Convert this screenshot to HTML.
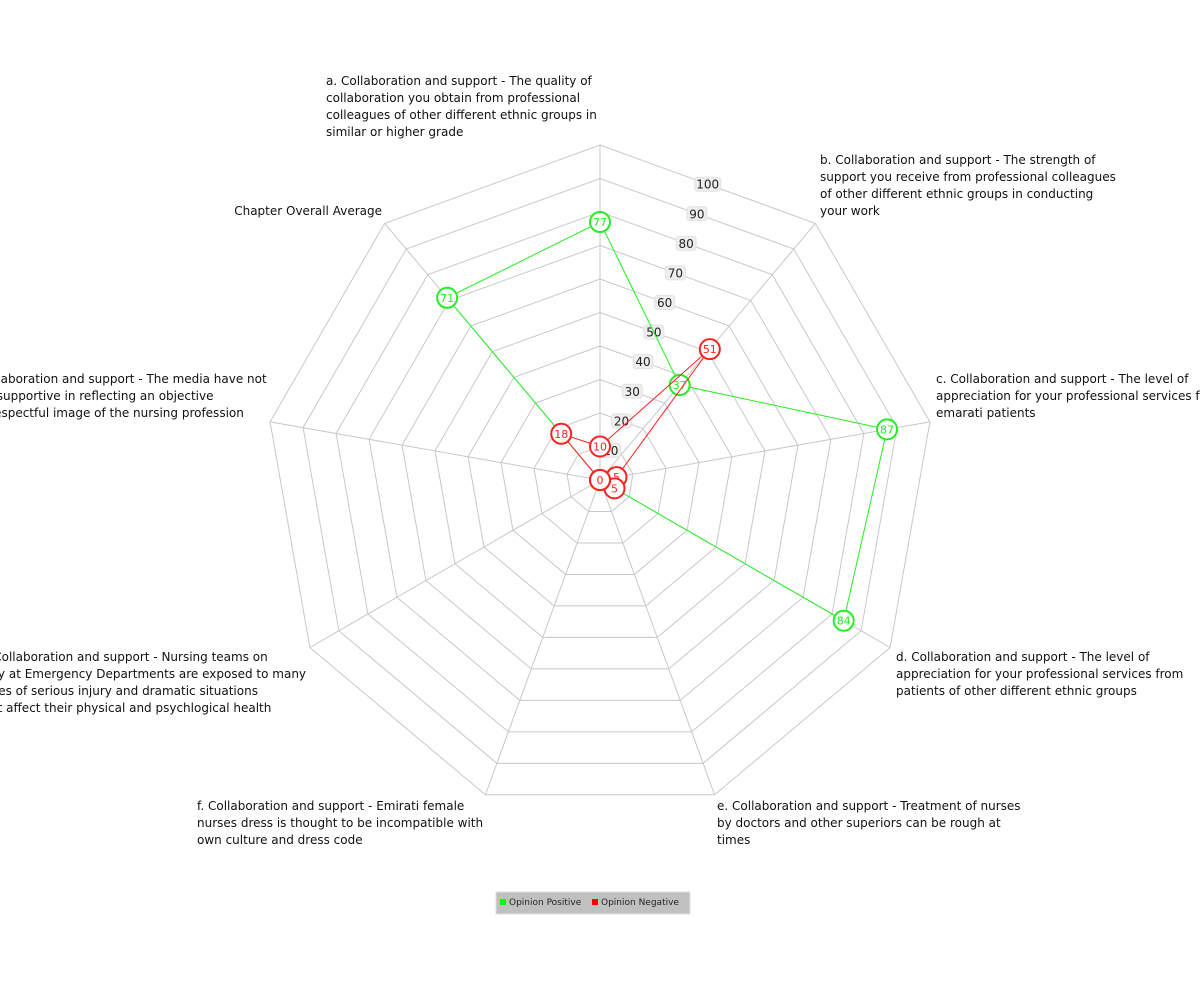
<!DOCTYPE html>
<html><head><meta charset="utf-8"><style>
html,body{margin:0;padding:0;background:#fff;}
svg{display:block;font-family:"DejaVu Sans","Liberation Sans",sans-serif;}
</style></head><body>
<svg id="chart" width="1200" height="1000">
<g id="grid"></g>
<g id="ticks"></g>
<g id="axlabels"></g>
<g id="series"></g>
<g>
<rect x="496" y="892" width="194" height="22" fill="#c0c0c0" stroke="#e0e0e0"/>
<rect x="500" y="899" width="6" height="6" fill="#00ff00"/>
<text x="509" y="905" font-size="9" fill="#222">Opinion Positive</text>
<rect x="592" y="899" width="6" height="6" fill="#ff0000"/>
<text x="601" y="905" font-size="9" fill="#222">Opinion Negative</text>
</g>
</svg>
<script>
const categories = ["a","b","c","d","e","f","g","h","overall"];
const positiveValues = [77,37,87,84,0,0,0,0,71];
const negativeValues = [10,51,5,5,0,0,0,0,18];
const tickLabels = [10,20,30,40,50,60,70,80,90,100];
const labelLines = [
 ["a. Collaboration and support - The quality of","collaboration you obtain from professional","colleagues of other different ethnic groups in","similar or higher grade"],
 ["b. Collaboration and support - The strength of","support you receive from professional colleagues","of other different ethnic groups in conducting","your work"],
 ["c. Collaboration and support - The level of","appreciation for your professional services from","emarati patients"],
 ["d. Collaboration and support - The level of","appreciation for your professional services from","patients of other different ethnic groups"],
 ["e. Collaboration and support - Treatment of nurses","by doctors and other superiors can be rough at","times"],
 ["f. Collaboration and support - Emirati female","nurses dress is thought to be incompatible with","own culture and dress code"],
 ["g. Collaboration and support - Nursing teams on","duty at Emergency Departments are exposed to many","cases of serious injury and dramatic situations","that affect their physical and psychlogical health"],
 ["h. Collaboration and support - The media have not","been supportive in reflecting an objective","and respectful image of the nursing profession"],
 ["Chapter Overall Average"]
];
const labelPos = [[326,85,"start"],[820,164,"start"],[936,383,"start"],[896,661,"start"],[717,810,"start"],[197,810,"start"],[-22,661,"start"],[-37,383,"start"],[382,215,"end"]];
const NS="http://www.w3.org/2000/svg";
const cx=600, cy=480, R=335, maxV=100;
function ang(i){return i*2*Math.PI/categories.length;}
function pt(i,v){const r=v/maxV*R;return [cx+r*Math.sin(ang(i)), cy-r*Math.cos(ang(i))];}
function mk(tag,attrs,parent){const e=document.createElementNS(NS,tag);for(const k in attrs)e.setAttribute(k,attrs[k]);parent.appendChild(e);return e;}
const grid=document.getElementById('grid');
tickLabels.forEach(t=>{
 const p=mk('polygon',{points:categories.map((c,i)=>pt(i,t).join(',')).join(' '),fill:'none',stroke:'#c8c8c8','stroke-width':1},grid);
 
 
});
categories.forEach((c,i)=>{
 const e=pt(i,maxV);
 const l=mk('line',{x1:cx,y1:cy,x2:e[0],y2:e[1],stroke:'#c8c8c8','stroke-width':1},grid);
 
 
});
const ticks=document.getElementById('ticks');
tickLabels.forEach(t=>{
 const a=20*Math.PI/180, r=t/maxV*R*Math.cos(a);
 const x=cx+r*Math.sin(a), y=cy-r*Math.cos(a);
 const w=t===100?26:20;
 const b=mk('rect',{x:x-w/2,y:y-7,width:w,height:14,rx:3,fill:'#eeeeee',stroke:'#e2e2e2'},ticks);
 
 
 const tx=mk('text',{x:x,y:y+4.5,'font-size':12,'text-anchor':'middle',fill:'#222'},ticks);
 tx.textContent=t;
 
 
});
const al=document.getElementById('axlabels');
labelLines.forEach((lines,i)=>{
 const [x,y,anc]=labelPos[i];
 const t=mk('text',{x:x,y:y,'font-size':12,'text-anchor':anc,fill:'#111'},al);
 
 
 lines.forEach((s,j)=>{const ts=mk('tspan',{x:x,dy:j?17:0},t);ts.textContent=s;});
});
const ser=document.getElementById('series');
function drawSeries(vals,color,name){
 const g=mk('g',{},ser);
 
 
 const pl=mk('polygon',{points:vals.map((v,i)=>pt(i,v).join(',')).join(' '),fill:'none',stroke:color,'stroke-width':1},g);
 
 
 return g;
}
function drawPoints(g,vals,color,name){
 vals.forEach((v,i)=>{
  const p=pt(i,v);
  const c=mk('circle',{cx:p[0],cy:p[1],r:10,fill:'#fff',stroke:color,'stroke-width':2},g);
  
  
  const t=mk('text',{x:p[0],y:p[1]+4,'font-size':11,'text-anchor':'middle',fill:color},g);
  t.textContent=v;
  
  
 });
}
const gp=drawSeries(positiveValues,'#22ee22','positive');
const gn=drawSeries(negativeValues,'#ff2020','negative');
drawPoints(gp,positiveValues,'#22ee22','positive');
drawPoints(gn,negativeValues,'#ff2020','negative');
</script>
</body></html>
